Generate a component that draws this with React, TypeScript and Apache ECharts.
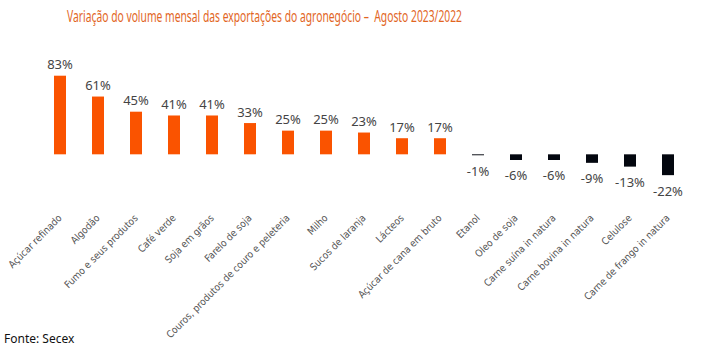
import React, { useEffect, useRef } from "react";
import * as echarts from "echarts";

const categories = [
  "Açúcar refinado",
  "Algodão",
  "Fumo e seus produtos",
  "Café verde",
  "Soja em grãos",
  "Farelo de soja",
  "Couros, produtos de couro e peleteria",
  "Milho",
  "Sucos de laranja",
  "Lácteos",
  "Açúcar de cana em bruto",
  "Etanol",
  "Oleo de soja",
  "Carne suína in natura",
  "Carne bovina in natura",
  "Celulose",
  "Carne de frango in natura",
];
const values = [83, 61, 45, 41, 41, 33, 25, 25, 23, 17, 17, -1, -6, -6, -9, -13, -22];

const titleText = "Variação do volume mensal das exportações do agronegócio –  Agosto 2023/2022";
const sourceText = "Fonte: Secex";

const ORANGE = "#FA5300";
const DARK = "#03070F";
const NARROW = "'DejaVu Sans Condensed', 'Noto Sans', sans-serif";

export default function App() {
  const ref = useRef<HTMLDivElement>(null);
  useEffect(() => {
    if (!ref.current) return;
    const chart = echarts.init(ref.current, null, { renderer: "svg" });
    chart.setOption({
      animation: false,
      backgroundColor: "#ffffff",
      graphic: [
        {
          type: "text",
          x: 67,
          y: 8,
          scaleX: 0.645,
          style: {
            text: titleText,
            fill: "#E2661F",
            fontSize: 16,
            fontFamily: "'Noto Sans', sans-serif",
          },
        },
        {
          type: "text",
          left: 4,
          top: 332,
          style: { text: sourceText, fill: "#111", fontSize: 12, fontFamily: "'Noto Sans', sans-serif" },
        },
      ],
      grid: { left: 41, right: 21, top: 59.6, bottom: 355 - 192.2, containLabel: false },
      xAxis: {
        type: "category",
        data: categories,
        axisLine: { show: false, onZero: false },
        axisTick: { show: false },
        axisLabel: {
          interval: 0,
          rotate: 45,
          margin: 24,
          color: "#555",
          fontSize: 10,
          fontFamily: NARROW,
        },
      },
      yAxis: {
        type: "value",
        min: -40,
        max: 100,
        show: false,
        splitLine: { show: false },
      },
      series: [
        {
          type: "bar",
          barWidth: 12,
          data: values.map((v) => ({
            value: v,
            itemStyle: { color: v >= 0 ? ORANGE : DARK },
            label: {
              show: true,
              position: v >= 0 ? "top" : "bottom",
              distance: v >= 0 ? 5 : 9,
              formatter: "{c}%",
              color: "#444",
              fontSize: 13,
              fontFamily: "'Noto Sans', sans-serif",
            },
          })),
        },
      ],
    });
    return () => chart.dispose();
  }, []);
  return <div ref={ref} style={{ width: 708, height: 355, position: "absolute", left: 0, top: 0 }} />;
}
